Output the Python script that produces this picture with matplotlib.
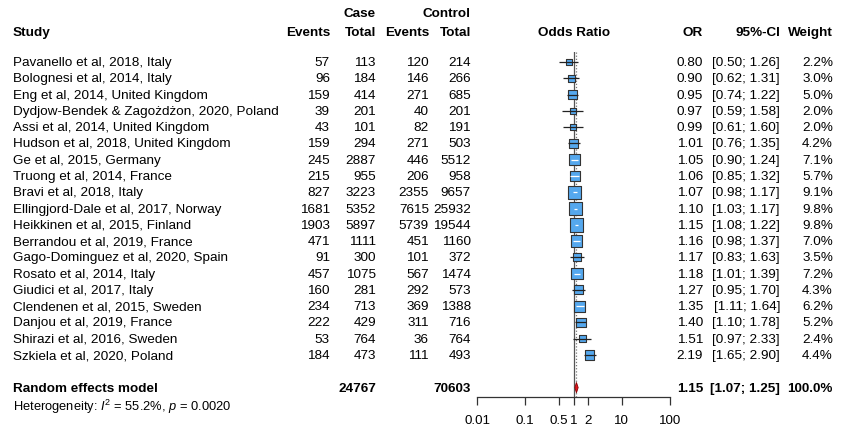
import matplotlib
matplotlib.use("Agg")
import matplotlib.pyplot as plt
import numpy as np
from matplotlib.transforms import blended_transform_factory
from matplotlib.patches import Polygon

plt.rcParams['font.family'] = ['Liberation Sans', 'DejaVu Sans']
plt.rcParams['mathtext.fontset'] = 'custom'
plt.rcParams['mathtext.rm'] = 'Liberation Sans'
plt.rcParams['mathtext.it'] = 'Liberation Sans:italic'

# ---- study-level data ----
studies = [
    "Pavanello et al, 2018, Italy",
    "Bolognesi et al, 2014, Italy",
    "Eng et al, 2014, United Kingdom",
    "Dydjow-Bendek & Zagożdżon, 2020, Poland",
    "Assi et al, 2014, United Kingdom",
    "Hudson et al, 2018, United Kingdom",
    "Ge et al, 2015, Germany",
    "Truong et al, 2014, France",
    "Bravi et al, 2018, Italy",
    "Ellingjord-Dale et al, 2017, Norway",
    "Heikkinen et al, 2015, Finland",
    "Berrandou et al, 2019, France",
    "Gago-Dominguez et al, 2020, Spain",
    "Rosato et al, 2014, Italy",
    "Giudici et al, 2017, Italy",
    "Clendenen et al, 2015, Sweden",
    "Danjou et al, 2019, France",
    "Shirazi et al, 2016, Sweden",
    "Szkiela et al, 2020, Poland",
]
case_events = [57, 96, 159, 39, 43, 159, 245, 215, 827, 1681, 1903, 471, 91, 457, 160, 234, 222, 53, 184]
case_total = [113, 184, 414, 201, 101, 294, 2887, 955, 3223, 5352, 5897, 1111, 300, 1075, 281, 713, 429, 764, 473]
ctrl_events = [120, 146, 271, 40, 82, 271, 446, 206, 2355, 7615, 5739, 451, 101, 567, 292, 369, 311, 36, 111]
ctrl_total = [214, 266, 685, 201, 191, 503, 5512, 958, 9657, 25932, 19544, 1160, 372, 1474, 573, 1388, 716, 764, 493]
odds_ratio = [0.80, 0.90, 0.95, 0.97, 0.99, 1.01, 1.05, 1.06, 1.07, 1.10, 1.15, 1.16, 1.17, 1.18, 1.27, 1.35, 1.40, 1.51, 2.19]
ci_low = [0.50, 0.62, 0.74, 0.59, 0.61, 0.76, 0.90, 0.85, 0.98, 1.03, 1.08, 0.98, 0.83, 1.01, 0.95, 1.11, 1.10, 0.97, 1.65]
ci_high = [1.26, 1.31, 1.22, 1.58, 1.60, 1.35, 1.24, 1.32, 1.17, 1.17, 1.22, 1.37, 1.63, 1.39, 1.70, 1.64, 1.78, 2.33, 2.90]
weight = [2.2, 3.0, 5.0, 2.0, 2.0, 4.2, 7.1, 5.7, 9.1, 9.8, 9.8, 7.0, 3.5, 7.2, 4.3, 6.2, 5.2, 2.4, 4.4]

# ---- pooled (random effects) ----
pooled_case_total = 24767
pooled_ctrl_total = 70603
pooled_or = 1.15
pooled_low = 1.07
pooled_high = 1.25
pooled_weight = 100.0
het_i2 = "55.2%"
het_p = "0.0020"

x_ticks = [0.01, 0.1, 0.5, 1, 2, 10, 100]
x_ticklabels = ["0.01", "0.1", "0.5", "1", "2", "10", "100"]

# ---- layout (pixels) ----
W, H = 844, 431
fig = plt.figure(figsize=(W / 100, H / 100), dpi=100)

row0_px, row_step = 63.0, 16.28
ax_left_px, ax_right_px = 477, 670
ax_top_px, ax_bot_px = 53, 397.5

def py2row(py):
    return (py - row0_px) / row_step

ax = fig.add_axes([ax_left_px / W, 1 - ax_bot_px / H,
                   (ax_right_px - ax_left_px) / W, (ax_bot_px - ax_top_px) / H])
ax.set_xscale("log")
ax.set_xlim(0.01, 100)
ax.set_ylim(py2row(ax_bot_px), py2row(ax_top_px))
for s in ("top", "left", "right"):
    ax.spines[s].set_visible(False)
ax.spines["bottom"].set_linewidth(0.9)
ax.spines["bottom"].set_color("#333333")
ax.set_yticks([])
ax.set_xticks(x_ticks)
ax.set_xticklabels(x_ticklabels)
ax.xaxis.set_minor_locator(matplotlib.ticker.NullLocator())
ax.tick_params(axis="x", direction="out", length=5.5, width=0.9, color="#333333",
               labelsize=9.6, pad=7)
ax.patch.set_alpha(0)

n = len(studies)
rows = np.arange(n)
pooled_row = n + 1

# reference lines
ax.axvline(1, color="#555555", lw=0.9, zorder=1)
ax.axvline(pooled_or, color="#777777", lw=0.9, ls=(0, (1, 1.5)), zorder=1)

# boxes, sized by weight
px_per_pt = 100 / 72
side_px = 4.35 * np.sqrt(np.array(weight))
ax.scatter(odds_ratio, rows, marker="s", s=(side_px / px_per_pt) ** 2,
           facecolor="#55a8ee", edgecolor="#333333", linewidths=0.8, zorder=3, clip_on=False)

# confidence intervals
decade_px = (ax_right_px - ax_left_px) / 4.0
for i in range(n):
    ci_px = (np.log10(ci_high[i]) - np.log10(ci_low[i])) * decade_px
    inside = ci_px < side_px[i] - 1
    ax.hlines(rows[i], ci_low[i], ci_high[i], color="white" if inside else "#222222",
              lw=0.9, zorder=4, clip_on=False)

# pooled diamond
dh = 0.32
diamond = Polygon([[pooled_low, pooled_row], [pooled_or, pooled_row - dh],
                   [pooled_high, pooled_row], [pooled_or, pooled_row + dh]],
                  closed=True, facecolor="#e0141e", edgecolor="#8b0000", lw=0.6, zorder=5,
                  clip_on=False)
ax.add_patch(diamond)

# ---- table text ----
tr = blended_transform_factory(fig.transFigure, ax.transData)
fs = 9.7

def fx(px):
    return px / W

col_case_ev, col_case_tot = 330, 376
col_ctrl_ev, col_ctrl_tot = 429, 471
col_or, col_ci, col_w = 703, 780, 833
study_x = 13

# headers
hdr_row1 = py2row(14)
hdr_row2 = py2row(33)
kw_b = dict(transform=tr, fontsize=fs, fontweight="bold", va="center")
ax.text(fx(study_x), hdr_row2, "Study", ha="left", **kw_b)
ax.text(fx(col_case_tot), hdr_row1, "Case", ha="right", **kw_b)
ax.text(fx(col_ctrl_tot), hdr_row1, "Control", ha="right", **kw_b)
ax.text(fx(col_case_ev), hdr_row2, "Events", ha="right", **kw_b)
ax.text(fx(col_case_tot), hdr_row2, "Total", ha="right", **kw_b)
ax.text(fx(col_ctrl_ev), hdr_row2, "Events", ha="right", **kw_b)
ax.text(fx(col_ctrl_tot), hdr_row2, "Total", ha="right", **kw_b)
ax.text(fx(574), hdr_row2, "Odds Ratio", ha="center", **kw_b)
ax.text(fx(col_or), hdr_row2, "OR", ha="right", **kw_b)
ax.text(fx(col_ci), hdr_row2, "95%-CI", ha="right", **kw_b)
ax.text(fx(col_w), hdr_row2, "Weight", ha="right", **kw_b)

kw = dict(transform=tr, fontsize=fs, va="center", clip_on=False)
for i in range(n):
    y = rows[i]
    ax.text(fx(study_x), y, studies[i], ha="left", **kw)
    ax.text(fx(col_case_ev), y, f"{case_events[i]}", ha="right", **kw)
    ax.text(fx(col_case_tot), y, f"{case_total[i]}", ha="right", **kw)
    ax.text(fx(col_ctrl_ev), y, f"{ctrl_events[i]}", ha="right", **kw)
    ax.text(fx(col_ctrl_tot), y, f"{ctrl_total[i]}", ha="right", **kw)
    ax.text(fx(col_or), y, f"{odds_ratio[i]:.2f}", ha="right", **kw)
    ax.text(fx(col_ci), y, f"[{ci_low[i]:.2f}; {ci_high[i]:.2f}]", ha="right", **kw)
    ax.text(fx(col_w), y, f"{weight[i]:.1f}%", ha="right", **kw)

kwp = dict(transform=tr, fontsize=fs, va="center", fontweight="bold", clip_on=False)
ax.text(fx(study_x), pooled_row, "Random effects model", ha="left", **kwp)
ax.text(fx(col_case_tot), pooled_row, f"{pooled_case_total}", ha="right", **kwp)
ax.text(fx(col_ctrl_tot), pooled_row, f"{pooled_ctrl_total}", ha="right", **kwp)
ax.text(fx(col_or), pooled_row, f"{pooled_or:.2f}", ha="right", **kwp)
ax.text(fx(col_ci), pooled_row, f"[{pooled_low:.2f}; {pooled_high:.2f}]", ha="right", **kwp)
ax.text(fx(col_w), pooled_row, f"{pooled_weight:.1f}%", ha="right", **kwp)

ax.text(fx(study_x), py2row(406.5),
        r"Heterogeneity: $I^2$ = " + het_i2 + r", $p$ = " + het_p,
        ha="left", transform=tr, fontsize=9.3, va="center", clip_on=False)

fig.savefig("out.png", dpi=100, facecolor="white")
